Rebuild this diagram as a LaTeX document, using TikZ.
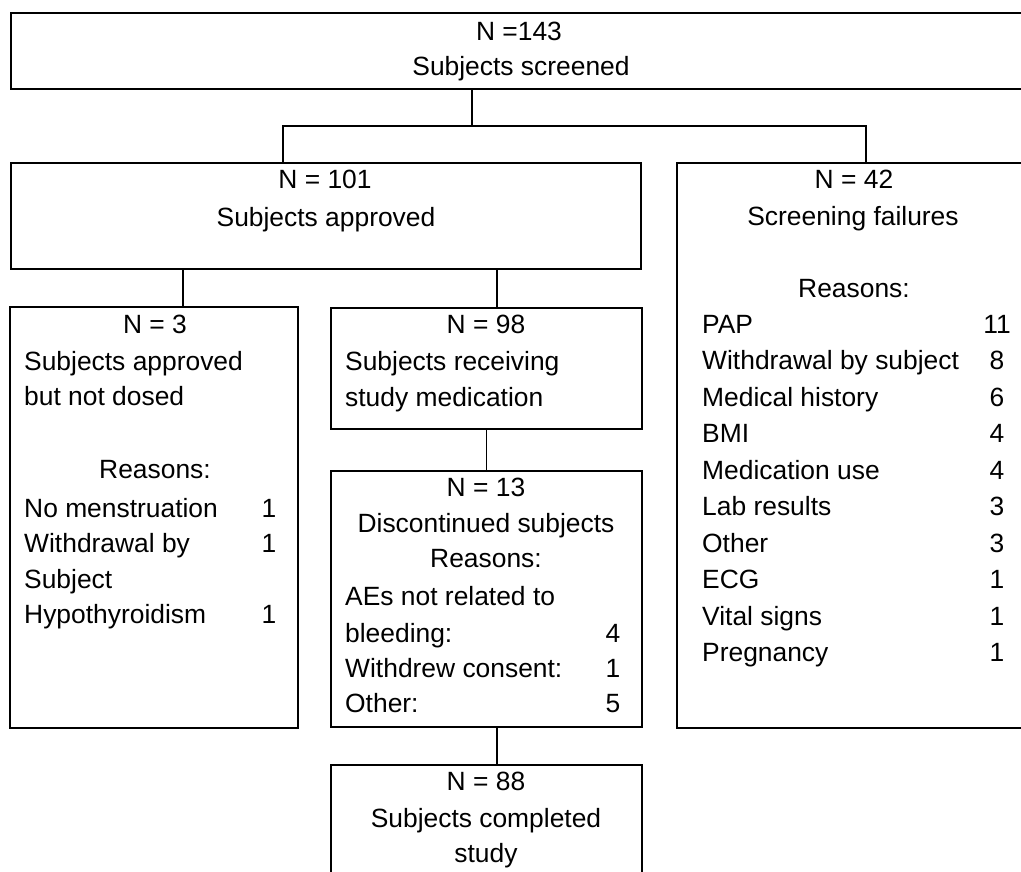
\documentclass[tikz,border=0pt]{standalone}
\usepackage{fontspec}
\setmainfont{Liberation Sans}
\begin{document}
\begin{tikzpicture}[x=1pt,y=-1pt,
  box/.style={draw, rectangle, line width=1.3pt, inner sep=0pt, outer sep=0pt},
  conn/.style={line width=1.3pt},
  txt/.style={inner sep=0pt, font=\fontsize{26.4pt}{30pt}\selectfont},
  tc/.style={txt, anchor=base},
  tl/.style={txt, anchor=base west}]
\useasboundingbox (0,0) rectangle (1021,871);
% boxes
\node[box, minimum width=1020pt, minimum height=76pt] (top) at (521,51) {};
\node[box, minimum width=630pt, minimum height=106pt] (b101) at (326,216) {};
\node[box, minimum width=354pt, minimum height=565pt] (bfail) at (854,445.5) {};
\node[box, minimum width=288pt, minimum height=421pt] (b3) at (154,517.5) {};
\node[box, minimum width=311pt, minimum height=121pt] (b98) at (486.5,368.5) {};
\node[box, minimum width=311pt, minimum height=256pt] (b13) at (486.5,599) {};
\node[box, minimum width=311pt, minimum height=135pt] (b88) at (486.5,832.5) {};
% connectors
\coordinate (jm) at (472,126);
\coordinate (jl) at (283,126);
\coordinate (jr) at (866,126);
\coordinate (xa) at (183,0);
\coordinate (xb) at (497,0);
\draw[conn] (top.south -| jm) -- (jm);
\draw[conn] (b101.north -| jl) -- (jl) -- (jr) -- (bfail.north -| jr);
\draw[conn] (b101.south -| xa) -- (b3.north -| xa);
\draw[conn] (b101.south -| xb) -- (b98.north -| xb);
\draw[conn] (b98.south) -- (b13.north);
\draw[conn] (b13.south -| xb) -- (b88.north -| xb);
% top box text
\node[tc] (t1) at (519,40) {N =143};
\node[tc] (t2) at (521,75) {Subjects screened};
% b101
\node[tc] (t3) at (325,188) {N = 101};
\node[tc] (t4) at (326,226) {Subjects approved};
% screening failures
\node[tc] (f1) at (854,188) {N = 42};
\node[tc] (f2) at (853,225) {Screening failures};
\node[tc] (f3) at (854,297) {Reasons:};
\foreach \lab/\num [count=\i from 0] in {PAP/11, Withdrawal by subject/8, Medical history/6, BMI/4, Medication use/4, Lab results/3, Other/3, ECG/1, Vital signs/1, Pregnancy/1}{
  \node[tl] (fl\i) at (702,333+36.5*\i) {\lab};
  \node[tc] (fn\i) at (997,333+36.5*\i) {\num};
}
% b3
\node[tc] (a1) at (155,333) {N = 3};
\node[tl] (a2) at (24,370) {Subjects approved};
\node[tl] (a3) at (24,405) {but not dosed};
\node[tc] (a4) at (155,478) {Reasons:};
\node[tl] (a5) at (24,517) {No menstruation};
\node[tc] (a5n) at (269,517) {1};
\node[tl] (a6) at (24,552) {Withdrawal by};
\node[tc] (a6n) at (269,552) {1};
\node[tl] (a7) at (24,588) {Subject};
\node[tl] (a8) at (24,623) {Hypothyroidism};
\node[tc] (a8n) at (269,623) {1};
% b98
\node[tc] (m1) at (486,333) {N = 98};
\node[tl] (m2) at (345,370) {Subjects receiving};
\node[tl] (m3) at (345,406) {study medication};
% b13
\node[tc] (d1) at (486,496) {N = 13};
\node[tc] (d2) at (486,532) {Discontinued subjects};
\node[tc] (d3) at (486,567) {Reasons:};
\node[tl] (d4) at (345,605) {AEs not related to};
\node[tl] (d5) at (345,642) {bleeding:};
\node[tc] (d5n) at (613,642) {4};
\node[tl] (d6) at (345,677) {Withdrew consent:};
\node[tc] (d6n) at (613,677) {1};
\node[tl] (d7) at (345,712) {Other:};
\node[tc] (d7n) at (613,712) {5};
% b88
\node[tc] (c1) at (486,790) {N = 88};
\node[tc] (c2) at (486,827) {Subjects completed};
\node[tc] (c3) at (486,862) {study};
\end{tikzpicture}
\end{document}
